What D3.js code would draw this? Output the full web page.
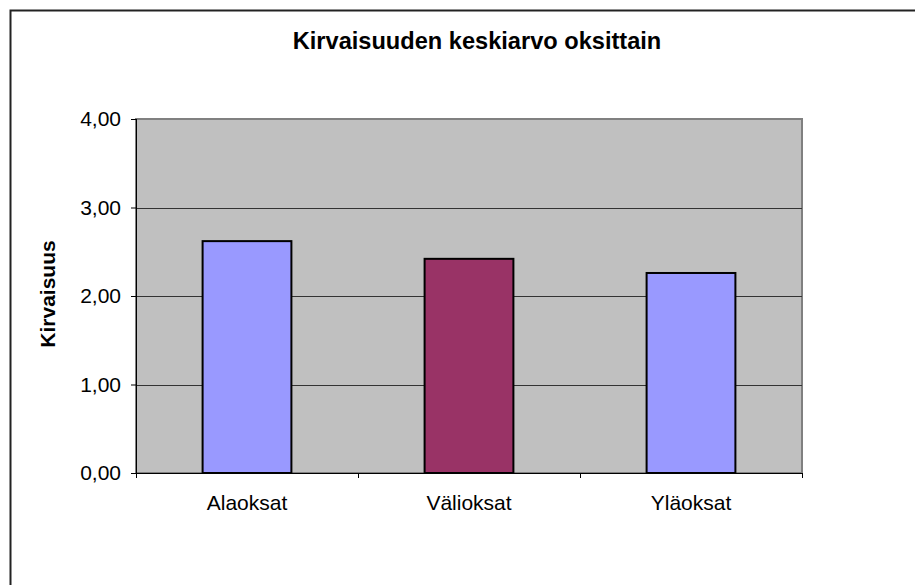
<!DOCTYPE html>
<html>
<head>
<meta charset="utf-8">
<script src="https://cdn.jsdelivr.net/npm/d3@7"></script>
<style>
  body { margin: 0; background: #fff; }
  text { font-family: "Liberation Sans", Arial, sans-serif; fill: #000; }
</style>
</head>
<body>
<div id="content"></div>
<script>
const categories = ['Alaoksat', 'Välioksat', 'Yläoksat'];
const values = [2.62, 2.42, 2.26];
const barColors = ['#9999FF', '#993366', '#9999FF'];
const yTicks = [0, 1, 2, 3, 4];

const width = 915;
const height = 585;
const plot = {left: 136, top: 119, right: 802, bottom: 473};

const fig = d3.select('#content')
    .append('svg')
    .attr('width', width)
    .attr('height', height);

// outer chart border
fig.append('rect')
    .attr('x', 10.5)
    .attr('y', 10.5)
    .attr('width', width + 20)
    .attr('height', height + 20)
    .attr('fill', '#fff')
    .attr('stroke', '#222')
    .attr('stroke-width', 2);

const x = d3.scaleBand()
    .domain(categories)
    .range([plot.left, plot.right])
    .paddingInner(0.6)
    .paddingOuter(0.3);

const y = d3.scaleLinear()
    .domain([0, 4])
    .range([plot.bottom, plot.top]);

// plot area
fig.append('rect')
    .attr('x', plot.left)
    .attr('y', plot.top)
    .attr('width', plot.right - plot.left)
    .attr('height', plot.bottom - plot.top)
    .attr('fill', '#C0C0C0')
    .attr('stroke', '#808080')
    .attr('stroke-width', 2);

// gridlines
fig.append('g')
    .selectAll('line')
    .data(yTicks.filter(d => d > 0 && d < 4))
    .join('line')
    .attr('x1', plot.left)
    .attr('x2', plot.right)
    .attr('y1', d => Math.round(y(d)) + 0.5)
    .attr('y2', d => Math.round(y(d)) + 0.5)
    .attr('stroke', '#333')
    .attr('stroke-width', 1);

// bars
fig.append('g')
    .selectAll('rect')
    .data(values)
    .join('rect')
    .attr('x', (d, i) => x(categories[i]))
    .attr('y', d => y(d))
    .attr('width', x.bandwidth())
    .attr('height', d => plot.bottom - y(d))
    .attr('fill', (d, i) => barColors[i])
    .attr('stroke', '#000')
    .attr('stroke-width', 2);

// y axis
const yAxis = fig.append('g')
    .attr('transform', `translate(${plot.left},0)`)
    .call(d3.axisLeft(y)
        .tickValues(yTicks)
        .tickSize(5)
        .tickPadding(10)
        .tickFormat(d => d3.format('.2f')(d).replace('.', ',')));
yAxis.select('.domain').attr('stroke', '#000').attr('d', `M0.5,${plot.top}V${plot.bottom}`);
yAxis.selectAll('.tick line').attr('stroke', '#000');
yAxis.selectAll('text')
    .style('font-size', '21px')
    .attr('fill', '#000');

// x axis
const bounds = [plot.left, plot.left + (plot.right - plot.left) / 3,
    plot.left + 2 * (plot.right - plot.left) / 3, plot.right];
const xAxis = fig.append('g');
xAxis.append('line')
    .attr('x1', plot.left)
    .attr('x2', plot.right)
    .attr('y1', plot.bottom + 0.5)
    .attr('y2', plot.bottom + 0.5)
    .attr('stroke', '#000');
xAxis.selectAll('.xtick')
    .data(bounds)
    .join('line')
    .attr('x1', d => Math.round(d) + 0.5)
    .attr('x2', d => Math.round(d) + 0.5)
    .attr('y1', plot.bottom)
    .attr('y2', plot.bottom + 5)
    .attr('stroke', '#000');
xAxis.selectAll('text')
    .data(categories)
    .join('text')
    .attr('x', d => x(d) + x.bandwidth() / 2)
    .attr('y', 510)
    .attr('text-anchor', 'middle')
    .style('font-size', '21px')
    .text(d => d);

// title
fig.append('text')
    .attr('x', 477)
    .attr('y', 49)
    .attr('text-anchor', 'middle')
    .style('font-size', '23.6px')
    .style('font-weight', 'bold')
    .text('Kirvaisuuden keskiarvo oksittain');

// y label
fig.append('text')
    .attr('transform', 'translate(55,294) rotate(-90)')
    .attr('text-anchor', 'middle')
    .style('font-size', '21px')
    .style('font-weight', 'bold')
    .text('Kirvaisuus');
</script>
</body>
</html>
